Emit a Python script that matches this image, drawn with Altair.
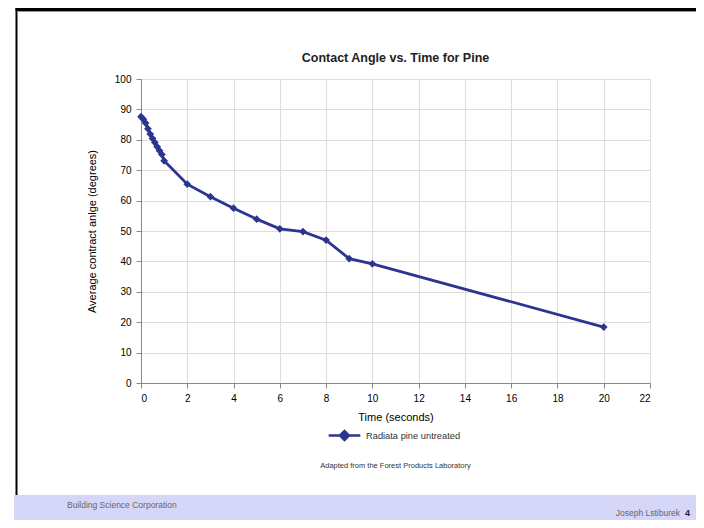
import altair as alt
import pandas as pd

time_s = [0, 0.1, 0.2, 0.3, 0.4, 0.5, 0.6, 0.7, 0.8, 0.9, 1.0, 2, 3, 4, 5, 6, 7, 8, 9, 10, 20]
angle = [87.6, 86.8, 85.5, 83.6, 81.9, 80.4, 79.1, 77.7, 76.4, 75.2, 73.1,
         65.4, 61.3, 57.5, 53.9, 50.7, 49.8, 47.0, 40.9, 39.2, 18.4]
series = ["Radiata pine untreated"] * len(time_s)

x_ticks = list(range(0, 23, 2))
y_ticks = list(range(0, 101, 10))

df = pd.DataFrame({"t": time_s, "a": angle, "s": series})

FONT = "Liberation Sans"
NAVY = "#2b3590"
W, H = 509, 304

base = alt.Chart(df)

line = base.mark_line(
    color=NAVY, strokeWidth=2.8,
    point=alt.OverlayMarkDef(shape="diamond", size=60, filled=True, color=NAVY),
).encode(
    x=alt.X("t:Q", scale=alt.Scale(domain=[0, 22], nice=False),
            axis=alt.Axis(values=x_ticks, title="Time (seconds)", grid=True,
                          labelPadding=5, titlePadding=8, titleFontWeight="normal")),
    y=alt.Y("a:Q", scale=alt.Scale(domain=[0, 100], nice=False),
            axis=alt.Axis(values=y_ticks, title="Average contract anlge (degrees)",
                          grid=True, labelPadding=5, titlePadding=17,
                          titleFontWeight="normal")),
    color=alt.Color("s:N", scale=alt.Scale(range=[NAVY]),
                    legend=alt.Legend(
                        title=None, orient="none", legendX=186, legendY=339,
                        symbolType="M-1,0L1,0M0,-0.28L0.28,0L0,0.28L-0.28,0Z",
                        symbolSize=1000, symbolStrokeWidth=2.6,
                        symbolFillColor=NAVY, symbolStrokeColor=NAVY,
                        labelFont=FONT, labelFontSize=9.3, labelColor="#333",
                        labelOffset=4)),
)

ann = pd.DataFrame({"k": [0]})

def txt(text, x, y, size, align="center", weight="normal", color="#555"):
    return alt.Chart(ann).mark_text(
        text=text, font=FONT, fontSize=size, align=align, fontWeight=weight,
        color=color, baseline="middle",
    ).encode(x=alt.value(x), y=alt.value(y))

title = txt("Contact Angle vs. Time for Pine", W / 2, -21, 12.5, weight="bold", color="#222")
source = txt("Adapted from the Forest Products Laboratory", W / 2, 387, 7.5, color="#333")

band = alt.Chart(ann).mark_rect(color="#d6d6f8").encode(
    x=alt.value(-127), x2=alt.value(560), y=alt.value(416), y2=alt.value(445))
left_line = alt.Chart(ann).mark_rule(color="black", strokeWidth=2).encode(
    x=alt.value(-124.5), y=alt.value(-72), y2=alt.value(416))
top_line = alt.Chart(ann).mark_rule(color="black", strokeWidth=3).encode(
    x=alt.value(-125.5), x2=alt.value(560), y=alt.value(-69.5))
top_line2 = alt.Chart(ann).mark_rule(color="#999", strokeWidth=1).encode(
    x=alt.value(-123.5), x2=alt.value(560), y=alt.value(-67.5))

foot1 = txt("Building Science Corporation", -74, 426, 8.5, align="left", color="#666")
foot2 = txt("Joseph Lstiburek", 539, 434, 8.5, align="right", color="#666")
foot3 = txt("4", 544, 434, 9, align="left", weight="bold", color="#222")

chart = alt.layer(band, left_line, top_line, top_line2, line, title, source, foot1, foot2, foot3).properties(
    width=W, height=H,
    autosize=alt.AutoSizeParams(type="none"),
    padding={"left": 133, "top": 71, "right": 46, "bottom": 137},
).configure_view(stroke=None).configure_axis(
    labelFont=FONT, labelFontSize=9.5, labelColor="#555",
    titleFont=FONT, titleFontSize=10, titleColor="#444", titleFontWeight="normal",
    domainColor="#a0a0a0", tickColor="#a0a0a0", tickSize=5,
    gridColor="#ebebeb",
).configure(background="white")

chart.save("out.html", embed_options={"renderer": "svg", "actions": False})
